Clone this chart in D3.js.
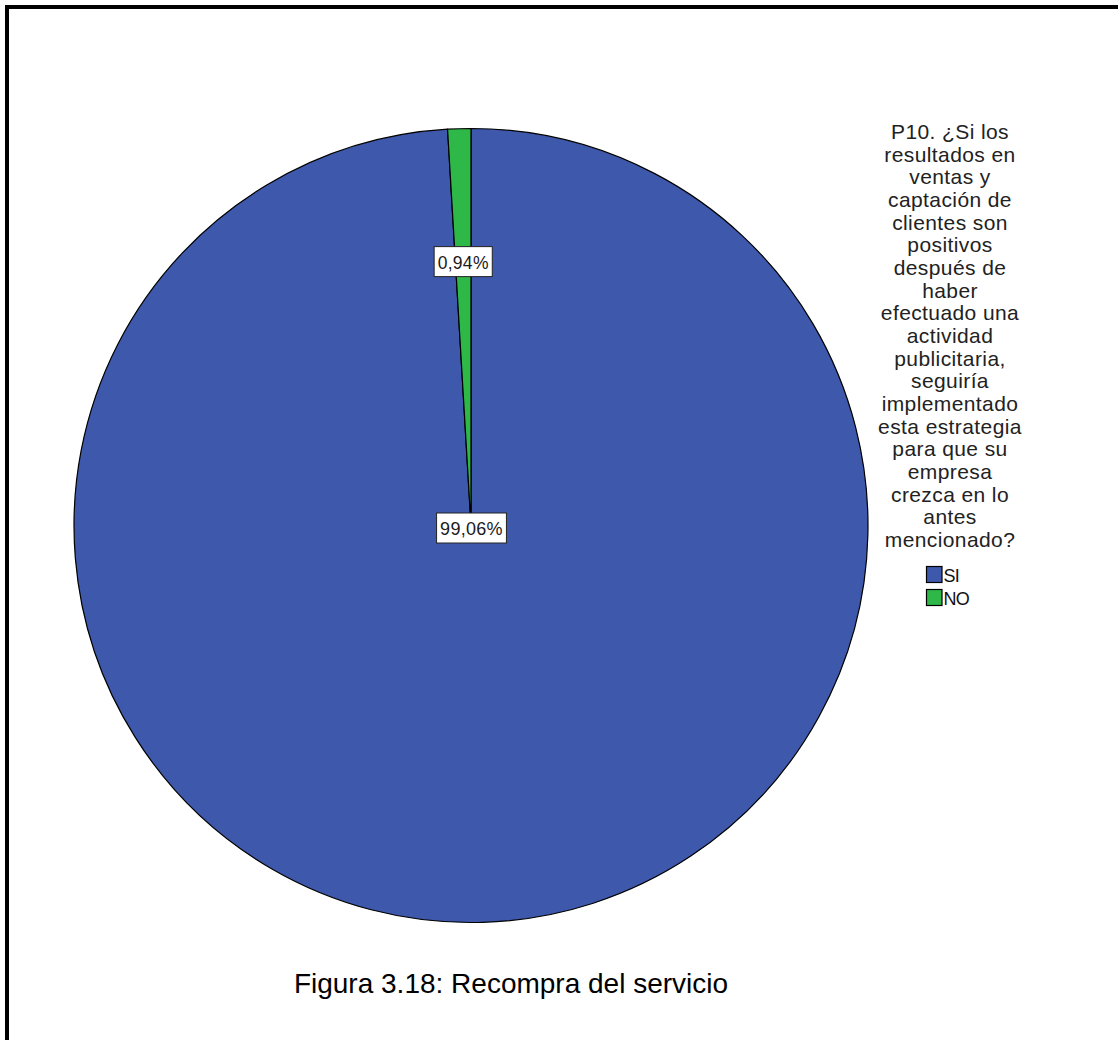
<!DOCTYPE html>
<html>
<head>
<meta charset="utf-8">
<script src="https://cdn.jsdelivr.net/npm/d3@7"></script>
<style>
  html, body { margin: 0; padding: 0; background: #fff; }
  svg { display: block; }
</style>
</head>
<body>
<svg id="chart" width="1118" height="1040"></svg>
<script>
const categories = ["SI", "NO"];
const values = [99.06, 0.94];
const valueLabels = ["99,06%", "0,94%"];
const colors = ["#3E58AC", "#2EB848"];
const legendTitleLines = [
  "P10. ¿Si los", "resultados en", "ventas y", "captación de", "clientes son",
  "positivos", "después de", "haber", "efectuado una", "actividad",
  "publicitaria,", "seguiría", "implementado", "esta estrategia", "para que su",
  "empresa", "crezca en lo", "antes", "mencionado?"
];
const caption = "Figura 3.18: Recompra del servicio";

const svg = d3.select("#chart");

// outer frame (right/bottom edges beyond the picture)
svg.append("rect")
  .attr("x", 7).attr("y", 7).attr("width", 1300).attr("height", 1300)
  .attr("fill", "#fff").attr("stroke", "#000").attr("stroke-width", 4);

const cx = 471, cy = 525.5, r = 397;
const g = svg.append("g").attr("transform", `translate(${cx},${cy})`);

const pie = d3.pie().sort(null).value(d => d.v);
const data = categories.map((c, i) => ({ c, v: values[i], label: valueLabels[i], color: colors[i] }));
const arcs = pie(data);
const arc = d3.arc().innerRadius(0).outerRadius(r);
const labelArc = d3.arc().innerRadius(r * 0.665).outerRadius(r * 0.665);

g.selectAll("path.slice").data(arcs).join("path")
  .attr("class", "slice")
  .attr("d", arc)
  .attr("fill", d => d.data.color)
  .attr("stroke", "#000")
  .attr("stroke-width", 1.2)
  .attr("stroke-linejoin", "round");

// labels
arcs.forEach(d => {
  const big = (d.endAngle - d.startAngle) > Math.PI;
  const [lx, ly] = big ? [0.5, 2.5] : labelArc.centroid(d);
  const fs = big ? 18 : 17.5;
  const lg = g.append("g").attr("transform", `translate(${lx},${ly})`);
  const t = lg.append("text")
    .attr("text-anchor", "middle")
    .attr("dominant-baseline", "central")
    .attr("y", 1)
    .attr("font-family", "Liberation Sans, Arial, sans-serif")
    .attr("font-size", fs)
    .attr("letter-spacing", 0.3)
    .attr("fill", "#1a1a1a")
    .text(d.data.label);
  const bb = t.node().getBBox();
  lg.insert("rect", "text")
    .attr("x", bb.x - 3.5).attr("y", -15)
    .attr("width", bb.width + 7).attr("height", 30)
    .attr("fill", "#fff").attr("stroke", "#222").attr("stroke-width", 1);
});

// legend title
const legX = 950, legY0 = 139, legDy = 22.67;
svg.append("g").selectAll("text").data(legendTitleLines).join("text")
  .attr("x", legX)
  .attr("y", (d, i) => legY0 + i * legDy)
  .attr("text-anchor", "middle")
  .attr("font-family", "Liberation Sans, Arial, sans-serif")
  .attr("font-size", 21)
  .attr("letter-spacing", 0.4)
  .attr("fill", "#222")
  .text(d => d);

// legend items
const itemY0 = 566, itemDy = 23;
const items = svg.append("g").selectAll("g").data(data).join("g")
  .attr("transform", (d, i) => `translate(926,${itemY0 + i * itemDy})`);
items.append("rect")
  .attr("x", 0.5).attr("y", 0.5).attr("width", 15.5).attr("height", 16)
  .attr("fill", d => d.color).attr("stroke", "#000").attr("stroke-width", 1.2);
items.append("text")
  .attr("x", 17.5).attr("y", 16)
  .attr("font-family", "Liberation Sans Narrow, Liberation Sans, Arial, sans-serif")
  .attr("font-size", 18)
  .attr("letter-spacing", -0.8)
  .attr("fill", "#111")
  .text(d => d.c);

// caption
svg.append("text")
  .attr("x", 511).attr("y", 993)
  .attr("text-anchor", "middle")
  .attr("font-family", "Liberation Sans, Arial, sans-serif")
  .attr("font-size", 28)
  .attr("fill", "#000")
  .text(caption);
</script>
</body>
</html>
